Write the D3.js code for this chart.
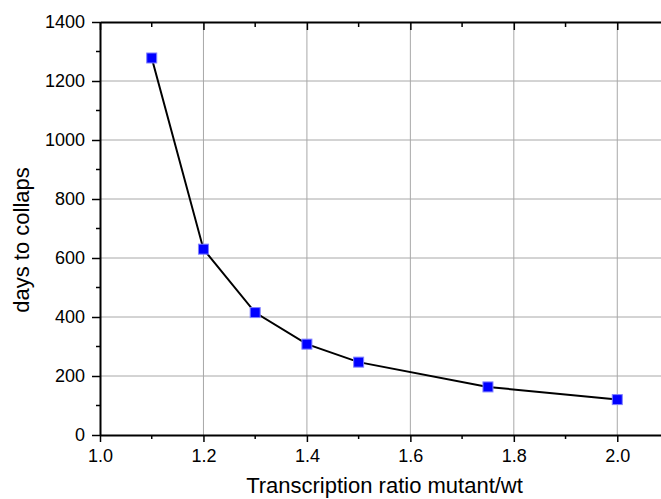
<!DOCTYPE html>
<html>
<head>
<meta charset="utf-8">
<script src="https://cdn.jsdelivr.net/npm/d3@7.9.0/dist/d3.min.js"></script>
<style>
  html, body { margin: 0; padding: 0; background: #fff; overflow: hidden; }
  svg { display: block; font-family: "Liberation Sans", Arial, sans-serif; }
</style>
</head>
<body>
<svg id="chart" width="661" height="499"></svg>
<script>
// data
const ratios = [1.1, 1.2, 1.3, 1.4, 1.5, 1.75, 2.0];
const days = [1278, 630, 415, 308, 247, 163, 120];
const xTicks = [1.0, 1.2, 1.4, 1.6, 1.8, 2.0];
const yTicks = [0, 200, 400, 600, 800, 1000, 1200, 1400];

const svg = d3.select('#chart');
const plotL = 100, plotR = 669, plotT = 22, plotB = 435;

const x = d3.scaleLinear().domain([1.0, 2.1]).range([plotL, plotR]);
const y = d3.scaleLinear().domain([0, 1400]).range([plotB, plotT]);

// grid
svg.append('g')
  .selectAll('line')
  .data(xTicks.slice(1))
  .join('line')
  .attr('x1', d => x(d)).attr('x2', d => x(d))
  .attr('y1', plotT).attr('y2', plotB)
  .attr('stroke', '#a8a8a8').attr('stroke-width', 1);

svg.append('g')
  .selectAll('line')
  .data(yTicks.slice(1, -1))
  .join('line')
  .attr('x1', plotL).attr('x2', plotR)
  .attr('y1', d => y(d)).attr('y2', d => y(d))
  .attr('stroke', '#a8a8a8').attr('stroke-width', 1);

// bottom axis
const xAxis = d3.axisBottom(x).tickValues(xTicks).tickFormat(d3.format('.1f'))
  .tickSizeInner(7).tickSizeOuter(0).tickPadding(7);
const gx = svg.append('g').attr('transform', `translate(0,${plotB})`).call(xAxis);
gx.selectAll('.tick text').attr('font-size', 18).attr('fill', '#000');

// minor x ticks
const xMinor = [1.1, 1.3, 1.5, 1.7, 1.9];
svg.append('g')
  .selectAll('line')
  .data(xMinor)
  .join('line')
  .attr('x1', d => x(d)).attr('x2', d => x(d))
  .attr('y1', plotB).attr('y2', plotB + 4)
  .attr('stroke', '#000').attr('stroke-width', 1.5);

// top axis, ticks inward
const xTop = d3.axisTop(x).tickValues(xTicks).tickFormat('')
  .tickSizeInner(-8).tickSizeOuter(0);
svg.append('g').attr('transform', `translate(0,${plotT})`).call(xTop);
svg.append('g')
  .selectAll('line')
  .data(xMinor)
  .join('line')
  .attr('x1', d => x(d)).attr('x2', d => x(d))
  .attr('y1', plotT).attr('y2', plotT + 5)
  .attr('stroke', '#000').attr('stroke-width', 1.5);

// left axis
const yAxis = d3.axisLeft(y).tickValues(yTicks).tickFormat(d3.format('d'))
  .tickSizeInner(8).tickSizeOuter(0).tickPadding(7);
const gy = svg.append('g').attr('transform', `translate(${plotL},0)`).call(yAxis);
gy.selectAll('.tick text').attr('font-size', 18).attr('fill', '#000');

const yMinor = [100, 300, 500, 700, 900, 1100, 1300];
svg.append('g')
  .selectAll('line')
  .data(yMinor)
  .join('line')
  .attr('x1', plotL - 4).attr('x2', plotL)
  .attr('y1', d => y(d)).attr('y2', d => y(d))
  .attr('stroke', '#000').attr('stroke-width', 1.5);

svg.selectAll('.domain').attr('stroke', '#000').attr('stroke-width', 2);
svg.selectAll('.tick line').attr('stroke', '#000').attr('stroke-width', 1.5);

// axis titles
svg.append('text')
  .attr('x', (plotL + plotR) / 2).attr('y', 493)
  .attr('text-anchor', 'middle')
  .attr('font-size', 22)
  .text('Transcription ratio mutant/wt');

svg.append('text')
  .attr('transform', 'translate(29,240) rotate(-90)')
  .attr('text-anchor', 'middle')
  .attr('font-size', 22)
  .text('days to collaps');

// line + markers
const points = ratios.map((r, i) => [r, days[i]]);
svg.append('path')
  .datum(points)
  .attr('fill', 'none')
  .attr('stroke', '#000')
  .attr('stroke-width', 2)
  .attr('d', d3.line().x(d => x(d[0])).y(d => y(d[1])));

svg.append('g')
  .selectAll('rect')
  .data(points)
  .join('rect')
  .attr('x', d => x(d[0]) - 5)
  .attr('y', d => y(d[1]) - 5)
  .attr('width', 10).attr('height', 10)
  .attr('fill', '#0000ff')
  .attr('stroke', '#8080ff')
  .attr('stroke-width', 1);
</script>
</body>
</html>
